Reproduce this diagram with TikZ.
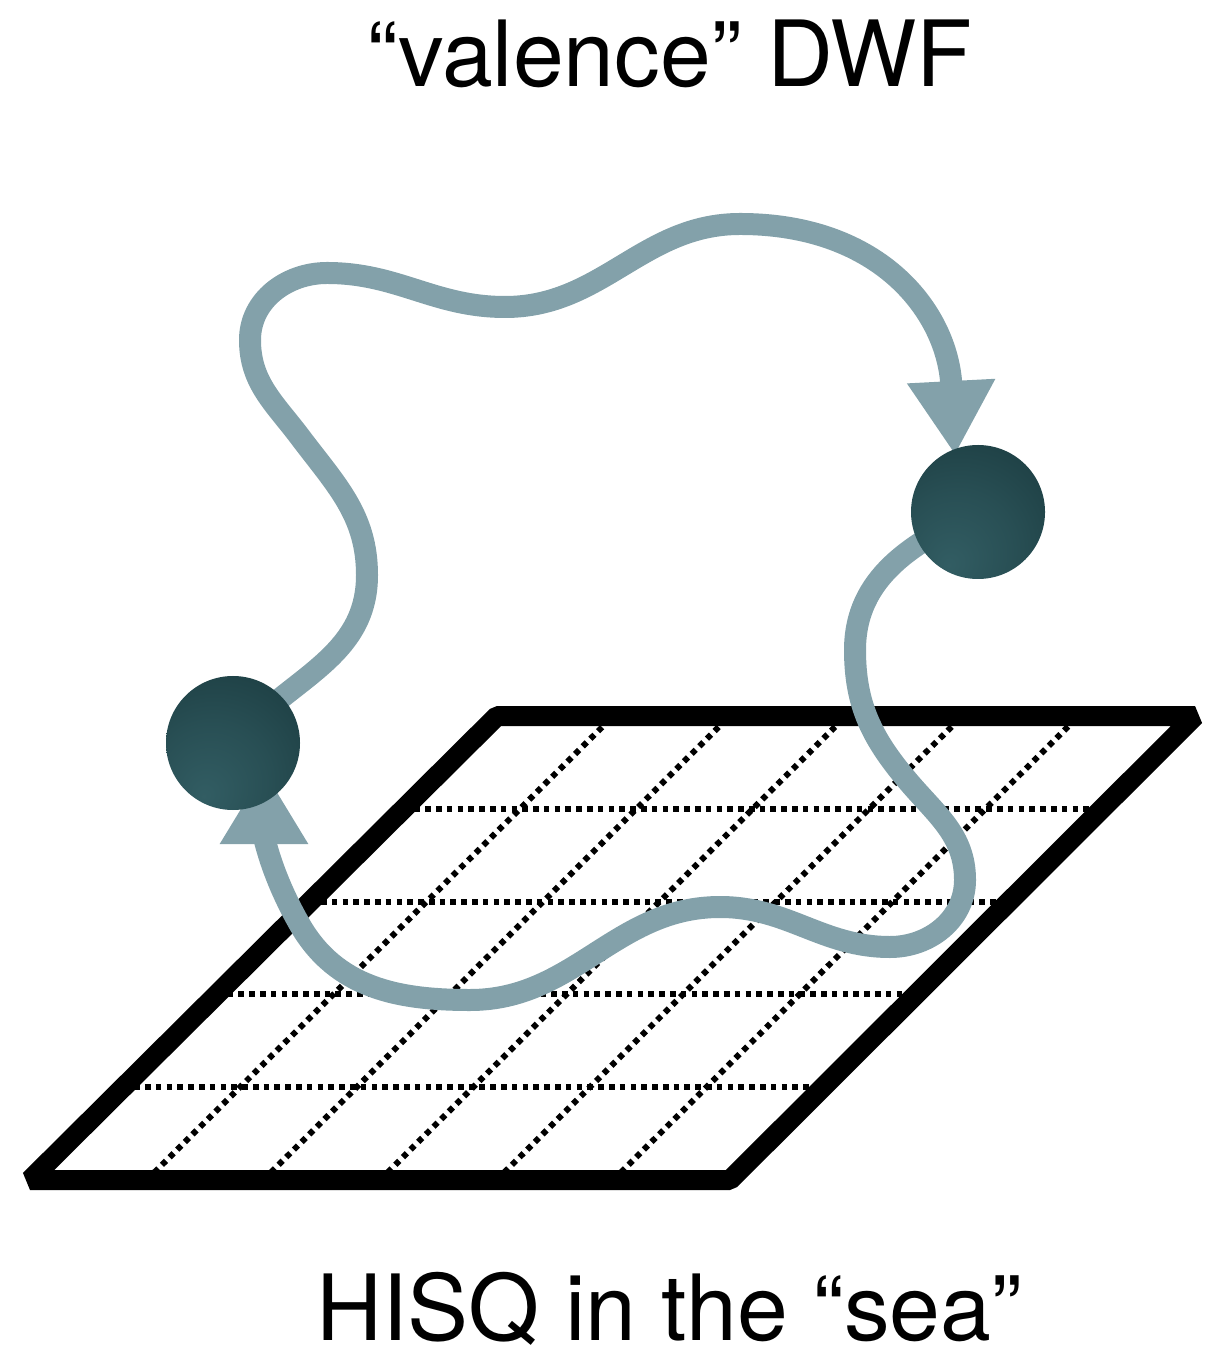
\documentclass[tikz,border=0pt]{standalone}
\usepackage{fontspec}
\setmainfont{TeX Gyre Heros}
\usetikzlibrary{calc,arrows.meta}

\definecolor{wavecol}{RGB}{131,161,170}
\definecolor{ballhi}{RGB}{50,93,99}
\definecolor{balldark}{RGB}{22,52,56}

% dark quark blob, lit a little from below left
\pgfdeclareradialshading{quarkball}{\pgfpoint{-11bp}{-20bp}}{%
  color(0bp)=(ballhi); color(22bp)=(ballhi!65!balldark);
  color(55bp)=(balldark); color(80bp)=(balldark)}

\pgfdeclarelayer{grid}
\pgfdeclarelayer{wave}
\pgfsetlayers{grid,wave,main}

\tikzset{
  quark/.style={circle, minimum size=1.34cm, inner sep=0pt, shading=quarkball},
  wave/.style={line width=0.22cm, draw=wavecol, -{Triangle[width=0.83cm,length=0.74cm]}},
  lattice/.style={line width=0.2cm, line join=bevel},
  link/.style={line width=1.7pt, dash pattern=on 1.6pt off 1.47pt},
  heading/.style={font=\fontsize{26}{31}\selectfont, anchor=base, inner sep=0pt}
}

\begin{document}
\begin{tikzpicture}
    \useasboundingbox (0,0) rectangle (12.14,-13.58);

    \node[heading] (top) at (6.70,-0.87) {“valence” DWF};
    \node[heading] (bottom) at (6.69,-13.40) {HISQ in the “sea”};

    % lattice corners
    \coordinate (A) at (0.30,-11.80);
    \coordinate (B) at (7.30,-11.80);
    \coordinate (C) at (11.95,-7.16);
    \coordinate (D) at (4.97,-7.16);

    \node[quark] (leftq) at (2.33,-7.43) {};
    \node[quark] (rightq) at (9.78,-5.12) {};

    \begin{pgfonlayer}{grid}
    \foreach \i in {1,...,5}
        \draw[link] ($(A)!\i/6!(B)$) -- ($(D)!\i/6!(C)$);
    \foreach \j in {1,...,4}
        \draw[link] ($(A)!\j/5!(D)$) -- ($(B)!\j/5!(C)$);
    \draw[lattice] (A) -- (B) -- (C) -- (D) -- cycle;
    \end{pgfonlayer}

    \begin{pgfonlayer}{wave}
    % upper propagator
    \draw[wave] (leftq.center) to[out=50,in=-90] (3.67,-5.75)
        to[out=90,in=-53] (3.00,-4.37) to[out=127,in=-90] (2.50,-3.40)
        to[out=90,in=180] (3.27,-2.73) to[out=0,in=180] (5.05,-3.07)
        to[out=0,in=180] (7.40,-2.24)
        to[out=0,in=93,looseness=1.15] ([shift={(-0.23,0.57)}]rightq.center);
    % lower propagator, over the lattice
    \draw[wave] (rightq.center) to[out=205,in=90] (8.55,-6.50)
        to[out=-90,in=130] (9.07,-7.80) to[out=-50,in=90] (9.65,-8.80)
        to[out=-90,in=0] (8.90,-9.47) to[out=180,in=0] (7.20,-9.07)
        to[out=180,in=0] (4.70,-10.00) to[out=180,in=-60] (3.00,-9.25)
        to[out=120,in=-90] ([shift={(0.31,-0.27)}]leftq.center);
    \end{pgfonlayer}
\end{tikzpicture}
\end{document}
